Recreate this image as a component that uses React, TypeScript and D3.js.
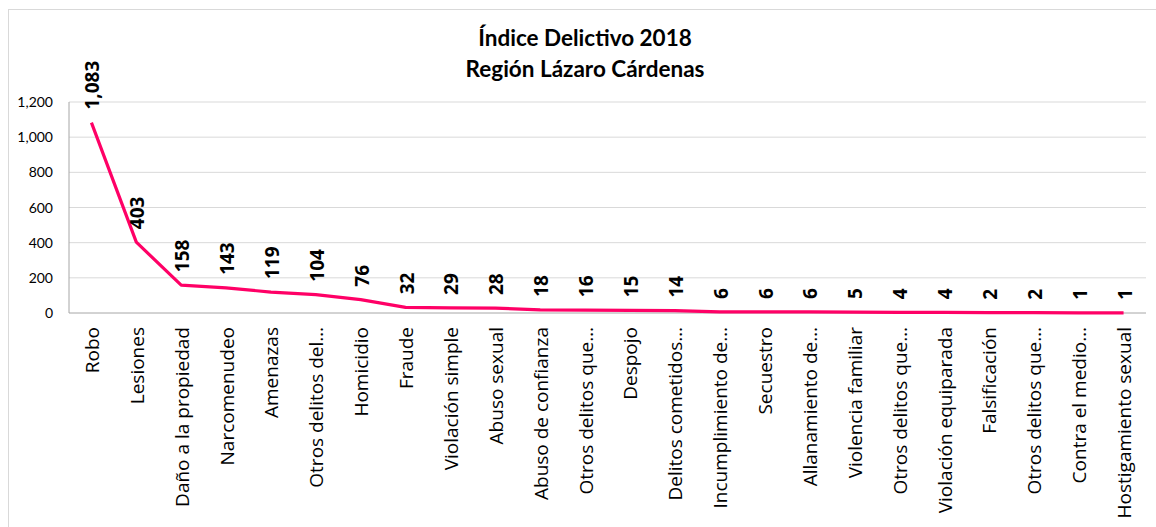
import React from "react";
import * as d3 from "d3";

const categories = [
  "Robo", "Lesiones", "Daño a la propiedad", "Narcomenudeo", "Amenazas",
  "Otros delitos del…", "Homicidio", "Fraude", "Violación simple", "Abuso sexual",
  "Abuso de confianza", "Otros delitos que…", "Despojo", "Delitos cometidos…",
  "Incumplimiento de…", "Secuestro", "Allanamiento de…", "Violencia familiar",
  "Otros delitos que…", "Violación equiparada", "Falsificación", "Otros delitos que…",
  "Contra el medio…", "Hostigamiento sexual",
];
const values = [1083, 403, 158, 143, 119, 104, 76, 32, 29, 28, 18, 16, 15, 14, 6, 6, 6, 5, 4, 4, 2, 2, 1, 1];
const yTicks = [0, 200, 400, 600, 800, 1000, 1200];
const titleLines = ["Índice Delictivo 2018", "Región Lázaro Cárdenas"];

const W = 1156, H = 527;
const FONT = "Lato, 'Open Sans', sans-serif";
const LFONT = "'Open Sans', Lato, sans-serif";

export default function App() {
  const left = 69, right = 1146, top = 102, bottom = 313;
  const x = d3.scaleBand<number>().domain(d3.range(categories.length)).range([left, right]);
  const y = d3.scaleLinear().domain([0, 1200]).range([bottom, top]);
  const cx = (i: number) => (x(i) as number) + x.bandwidth() / 2;
  const line = d3.line<number>().x((_, i) => cx(i)).y((d) => y(d));
  const fmt = d3.format(",");
  return (
    <svg width={W} height={H} style={{ position: "absolute", left: 0, top: 0, background: "#fff" }}>
      <rect x={8.5} y={9.5} width={W} height={H} fill="#fff" stroke="#d9d9d9" />
      {titleLines.map((t, i) => (
        <text key={i} x={585} y={46 + i * 31} textAnchor="middle" fontFamily={FONT} fontWeight="bold" fontSize={22.5} fill="#000">
          {t}
        </text>
      ))}
      {yTicks.map((t) => (
        <g key={t}>
          {t > 0 && <line x1={left} x2={right} y1={y(t)} y2={y(t)} stroke="#d9d9d9" strokeWidth={1} />}
          <text x={53} y={y(t) + 5} textAnchor="end" fontFamily={FONT} fontSize={14} fill="#000">
            {fmt(t)}
          </text>
        </g>
      ))}
      <line x1={left} x2={left} y1={top} y2={bottom} stroke="#a6a6a6" />
      <line x1={left} x2={right} y1={bottom} y2={bottom} stroke="#a6a6a6" />
      <path d={line(values) || ""} fill="none" stroke="#FF0066" strokeWidth={3.2} strokeLinejoin="round" />
      {values.map((v, i) => (
        <text key={i} transform={`translate(${cx(i) + 8},${y(v) - 13}) rotate(-90)`} fontFamily={LFONT} fontWeight="bold" fontSize={19} fill="#000">
          {fmt(v)}
        </text>
      ))}
      {categories.map((c, i) => (
        <text key={i} transform={`translate(${cx(i) + 7.5},${bottom + 14}) rotate(-90)`} textAnchor="end" fontFamily={LFONT} fontSize={19} fill="#000">
          {c}
        </text>
      ))}
    </svg>
  );
}
